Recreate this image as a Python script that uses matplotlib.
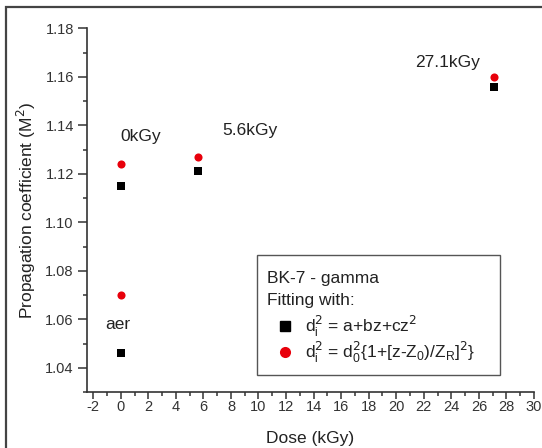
import matplotlib
matplotlib.use("Agg")
import matplotlib.pyplot as plt
from matplotlib.ticker import MultipleLocator, FormatStrFormatter
from matplotlib.patches import Rectangle
from matplotlib.lines import Line2D

plt.rcParams['font.family'] = ['Liberation Sans', 'DejaVu Sans']
plt.rcParams['axes.unicode_minus'] = False

# Dose (kGy) for each sample
dose = [0, 0, 5.6, 27.1]
# M^2 from the parabolic fit d_i^2 = a + bz + cz^2
m2_parabolic = [1.046, 1.115, 1.121, 1.156]
# M^2 from the Gaussian-beam fit d_i^2 = d_0^2{1+[(z-Z0)/ZR]^2}
m2_gaussian = [1.070, 1.124, 1.127, 1.160]

# Annotation text and anchor positions (data coords)
annot_text = ["aer", "0kGy", "5.6kGy", "27.1kGy"]
annot_x = [-1.15, 0.0, 7.35, 21.4]
annot_y = [1.0578, 1.1354, 1.138, 1.166]

FS = 12.5
TXT = '#222222'

fig = plt.figure(figsize=(5.42, 4.48), dpi=100)
ax = fig.add_axes([87 / 542, 1 - 392 / 448, (534 - 87) / 542, (392 - 28.5) / 448])

ax.scatter(dose, m2_parabolic, marker='s', s=28, color='black', zorder=3, linewidths=0)
ax.scatter(dose, m2_gaussian, marker='o', s=34, color='#e8000b', zorder=3, linewidths=0)

for t, x, y in zip(annot_text, annot_x, annot_y):
    ax.text(x, y, t, fontsize=FS, color=TXT, va='center', ha='left')

ax.set_xlim(-2.45, 30)
ax.set_ylim(1.03, 1.18)
ax.xaxis.set_major_locator(MultipleLocator(2))
ax.xaxis.set_minor_locator(MultipleLocator(1))
ax.yaxis.set_major_locator(MultipleLocator(0.02))
ax.yaxis.set_minor_locator(MultipleLocator(0.01))
ax.yaxis.set_major_formatter(FormatStrFormatter('%.2f'))
ax.set_xticks(range(-2, 31, 2))

for side in ('top', 'right'):
    ax.spines[side].set_visible(False)
for side in ('left', 'bottom'):
    ax.spines[side].set_color('#333333')
    ax.spines[side].set_linewidth(1.2)

ax.tick_params(which='major', direction='out', width=1.1, colors='#333333',
               labelsize=10.5, labelcolor='#333333')
ax.tick_params(which='minor', direction='out', length=3, width=1.1, colors='#333333')
ax.tick_params(axis='x', which='major', length=5, pad=1)
ax.tick_params(axis='y', which='major', length=6.5, pad=3)

ax.set_xlabel('Dose (kGy)', fontsize=FS, color=TXT, labelpad=12)
ax.set_ylabel('Propagation coefficient (M$^2$)', fontsize=FS, color=TXT, labelpad=5)

# Legend panel
box = Rectangle((257 / 542, 1 - 375 / 448), (500 - 257) / 542, (375 - 255) / 448,
                transform=fig.transFigure, facecolor='white', edgecolor='#555555',
                linewidth=1.0, zorder=5)
fig.add_artist(box)
fig.text(267 / 542, 1 - 278 / 448, 'BK-7 - gamma', fontsize=FS, color=TXT,
         va='center', ha='left', zorder=6)
fig.text(267 / 542, 1 - 300 / 448, 'Fitting with:', fontsize=FS, color=TXT,
         va='center', ha='left', zorder=6)
fig.add_artist(Line2D([285 / 542], [1 - 326 / 448], marker='s', markersize=7,
                      color='black', linestyle='none', transform=fig.transFigure, zorder=6))
fig.add_artist(Line2D([285 / 542], [1 - 352 / 448], marker='o', markersize=8,
                      color='#e8000b', markeredgewidth=0, linestyle='none',
                      transform=fig.transFigure, zorder=6))
fig.text(305 / 542, 1 - 326 / 448, r'd$^2_{\mathregular{i}}$ = a+bz+cz$^2$',
         fontsize=FS, color=TXT, va='center', ha='left', zorder=6)
fig.text(305 / 542, 1 - 352 / 448,
         r'd$^2_{\mathregular{i}}$ = d$^2_{\mathregular{0}}${1+[z-Z$_{\mathregular{0}}$)/Z$_{\mathregular{R}}$]$^2$}',
         fontsize=FS, color=TXT, va='center', ha='left', zorder=6)

# Outer frame
fig.add_artist(Rectangle((6 / 542, -0.1), 1.2, 1 - 7 / 448 + 0.1, transform=fig.transFigure,
                         fill=False, edgecolor='#444444', linewidth=1.6))

fig.savefig('out.png', dpi=100)
